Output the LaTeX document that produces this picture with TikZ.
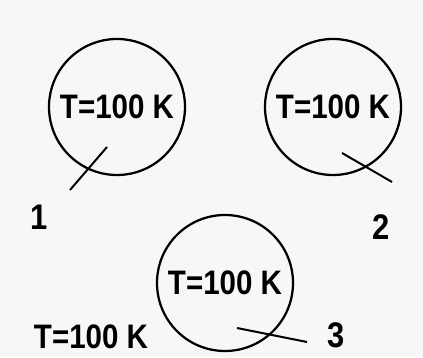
\documentclass[tikz,border=0pt]{standalone}
\usepackage{fontspec}
\setmainfont{Liberation Sans}
\usepackage{tikz}
\usetikzlibrary{positioning}
\newcommand{\tallx}[1]{\scalebox{1}[1.15]{#1}}

\begin{document}
\begin{tikzpicture}[ball/.style={draw, circle, line width=1.6pt, minimum size=3.4cm, inner sep=0pt, font=\bfseries\fontsize{21}{25}\selectfont},
 lbl/.style={font=\bfseries\fontsize{22}{26}\selectfont},
 tick/.style={line width=1.4pt}]
 \fill[black!3] (0,0) rectangle (10.575,8.925);
 \node[ball] (b1) at (2.925,6.25){\tallx{T=100 K}};
 \node[ball] (b2) at (8.325,6.25){\tallx{T=100 K}};
 \node[ball] (b3) at (5.625,1.85){\tallx{T=100 K}};
 \draw[tick] ([shift={(-0.25,-1.0)}]b1.center) -- ([shift={(-1.175,-2.075)}]b1.center);
 \draw[tick] ([shift={(0.225,-1.15)}]b2.center) -- ([shift={(1.475,-1.875)}]b2.center);
 \draw[tick] ([shift={(0.3,-1.125)}]b3.center) -- ([shift={(2.05,-1.475)}]b3.center);
 \node[lbl] (n1) at (0.975,3.5){\tallx{1}};
 \node[lbl] (n2) at (9.525,3.25){\tallx{2}};
 \node[lbl] (n3) at (8.4,0.55){\tallx{3}};
 \node[lbl, font=\bfseries\fontsize{21}{25}\selectfont] (t0) at (2.275,0.5){\tallx{T=100 K}};
\end{tikzpicture}
\end{document}
